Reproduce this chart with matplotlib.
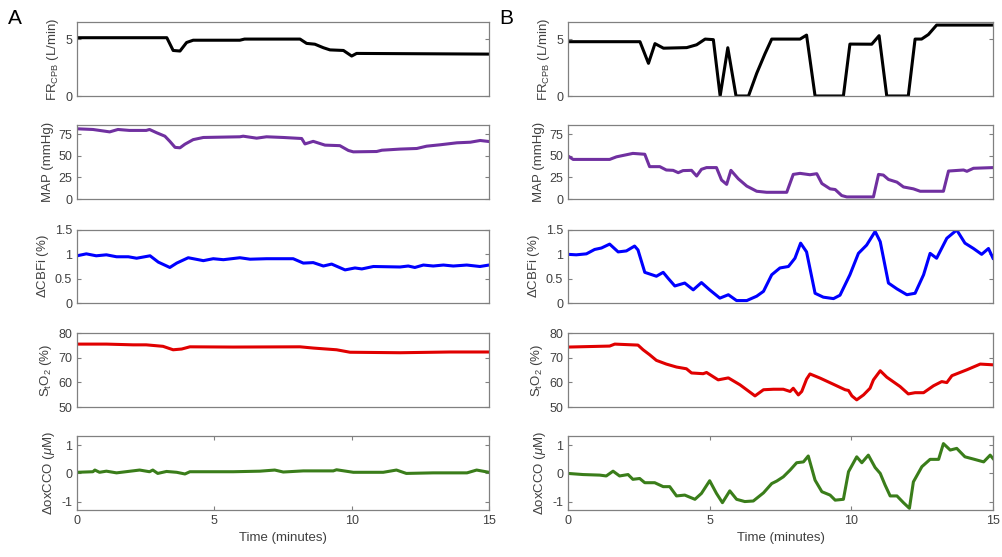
import matplotlib
matplotlib.use("Agg")
import matplotlib.pyplot as plt

plt.rcParams["font.family"] = ["Liberation Sans", "DejaVu Sans"]
plt.rcParams["mathtext.fontset"] = "custom"
plt.rcParams["mathtext.rm"] = "Liberation Sans"
plt.rcParams["mathtext.it"] = "Liberation Sans:italic"

# ---- panel A ----
a_fr_t = [0, 3.27, 3.5, 3.75, 3.99, 4.23, 5.93, 6.1, 8.12, 8.36, 8.66, 8.97, 9.21, 9.7, 10.0, 10.18, 15]
a_fr_v = [5.12, 5.12, 4.0, 3.95, 4.7, 4.9, 4.9, 5.0, 5.0, 4.62, 4.55, 4.24, 4.05, 4.0, 3.51, 3.74, 3.68]

a_map_t = [0, 0.58, 1.19, 1.49, 1.91, 2.52, 2.64, 2.9, 3.2, 3.38, 3.57, 3.75, 3.93, 4.23, 4.6, 5.93, 6.05,
           6.54, 6.9, 7.51, 8.18, 8.3, 8.6, 9.03, 9.57, 9.88, 10.06, 10.91, 11.1, 11.76, 12.37, 12.73, 13.22,
           13.83, 14.32, 14.68, 15]
a_map_v = [81.6, 80.8, 78, 80.8, 79.7, 79.7, 80.8, 77, 73, 67, 60, 59.5, 63.7, 69, 71.5, 72.3, 73,
           70.7, 72.3, 71.5, 70.3, 64, 67, 62.6, 62, 56.4, 54.8, 55.2, 56.7, 58, 58.7, 61.4, 63,
           65.3, 66, 68, 66.8]

a_cbf_t = [0, 0.34, 0.7, 1.07, 1.44, 1.87, 2.17, 2.66, 2.96, 3.38, 3.63, 4.05, 4.6, 4.96, 5.33, 5.93, 6.3,
           6.9, 7.87, 8.24, 8.6, 8.97, 9.27, 9.76, 10.12, 10.37, 10.79, 11.76, 12.06, 12.3, 12.61, 12.97,
           13.34, 13.7, 14.19, 14.67, 15]
a_cbf_v = [0.97, 1.01, 0.97, 0.99, 0.95, 0.95, 0.92, 0.97, 0.84, 0.73, 0.82, 0.93, 0.87, 0.91, 0.89, 0.93, 0.90,
           0.91, 0.91, 0.82, 0.83, 0.76, 0.80, 0.68, 0.72, 0.70, 0.75, 0.74, 0.76, 0.73, 0.78, 0.76,
           0.78, 0.76, 0.78, 0.75, 0.78]

a_sto2_t = [0, 1.07, 2.04, 2.52, 3.13, 3.5, 3.81, 4.11, 5.69, 8.12, 8.6, 9.45, 9.94, 11.76, 13.58, 15]
a_sto2_v = [75.5, 75.5, 75.2, 75.2, 74.6, 73.2, 73.5, 74.4, 74.3, 74.4, 73.9, 73.2, 72.2, 72.0, 72.3, 72.3]

a_cco_t = [0, 0.58, 0.65, 0.82, 1.07, 1.44, 2.28, 2.64, 2.76, 2.94, 3.26, 3.63, 3.93, 4.11, 5.69, 6.66, 7.2,
           7.51, 8.24, 9.33, 9.45, 10.06, 11.15, 11.63, 11.99, 12.97, 14.2, 14.55, 15]
a_cco_v = [0.04, 0.06, 0.12, 0.04, 0.08, 0.02, 0.12, 0.06, 0.12, 0.0, 0.07, 0.04, -0.02, 0.06, 0.06, 0.08, 0.12,
           0.05, 0.09, 0.09, 0.13, 0.04, 0.04, 0.12, 0.0, 0.02, 0.02, 0.12, 0.04]

# ---- panel B ----
b_fr_t = [0, 2.54, 2.84, 3.07, 3.37, 4.19, 4.54, 4.84, 5.13, 5.37, 5.64, 5.93, 6.37, 6.66, 6.95, 7.19, 8.19,
          8.42, 8.72, 9.72, 9.95, 10.72, 10.98, 11.25, 12.01, 12.25, 12.48, 12.72, 13.01, 15]
b_fr_v = [4.77, 4.77, 2.87, 4.6, 4.2, 4.25, 4.5, 5.0, 4.95, 0, 4.24, 0, 0, 1.99, 3.7, 5.0, 5.0,
          5.35, 0, 0, 4.56, 4.55, 5.3, 0, 0, 5.0, 5.0, 5.4, 6.23, 6.23]

b_map_t = [0, 0.18, 1.47, 1.71, 2.29, 2.71, 2.88, 3.24, 3.47, 3.71, 3.89, 4.06, 4.36, 4.54, 4.71, 4.89, 5.24,
           5.42, 5.6, 5.75, 6.01, 6.31, 6.66, 7.01, 7.72, 7.95, 8.19, 8.54, 8.78, 8.96, 9.25, 9.43, 9.66,
           9.84, 10.78, 10.96, 11.13, 11.31, 11.61, 11.84, 12.19, 12.43, 13.25, 13.43, 13.96, 14.08, 14.31, 15]
b_map_v = [50, 46, 46, 49, 53, 52, 37.6, 37.6, 33.7, 33.3, 30.6, 33, 33.3, 26.7, 34.5, 36.5, 36.5,
           22, 17, 33.3, 23.5, 15, 9, 7.8, 7.8, 28.6, 29.8, 28.2, 29.4, 18, 11.8, 11, 4,
           2.4, 2.4, 28.6, 27.8, 22.7, 19.6, 14, 11.8, 9, 9, 32.5, 33.7, 32.2, 35.7, 36.5]

b_cbf_t = [0, 0.29, 0.65, 0.94, 1.18, 1.47, 1.77, 2.06, 2.35, 2.47, 2.71, 3.12, 3.36, 3.53, 3.77, 4.12, 4.42,
           4.71, 5.0, 5.36, 5.66, 5.95, 6.31, 6.66, 6.9, 7.19, 7.48, 7.78, 8.01, 8.21, 8.42, 8.72, 9.01,
           9.37, 9.6, 9.95, 10.25, 10.54, 10.84, 11.02, 11.31, 11.61, 11.96, 12.25, 12.55, 12.78, 13.01,
           13.37, 13.72, 14.01, 14.31, 14.6, 14.84, 15]
b_cbf_v = [1.0, 0.99, 1.01, 1.1, 1.13, 1.21, 1.05, 1.07, 1.17, 1.09, 0.63, 0.55, 0.63, 0.51, 0.35, 0.41, 0.27,
           0.42, 0.27, 0.10, 0.17, 0.05, 0.05, 0.14, 0.24, 0.58, 0.72, 0.75, 0.92, 1.23, 1.05, 0.20, 0.12,
           0.09, 0.16, 0.58, 1.02, 1.19, 1.47, 1.26, 0.41, 0.29, 0.17, 0.20, 0.58, 1.02, 0.92,
           1.33, 1.50, 1.23, 1.12, 1.0, 1.12, 0.92]

b_sto2_t = [0, 1.47, 1.65, 2.47, 2.65, 2.88, 3.12, 3.47, 3.83, 4.18, 4.36, 4.77, 4.89, 5.3, 5.66, 6.07, 6.6,
            6.9, 7.25, 7.6, 7.84, 7.95, 8.13, 8.25, 8.42, 8.54, 8.9, 9.37, 9.78, 9.9, 10.02, 10.19, 10.43,
            10.66, 10.78, 11.02, 11.25, 11.72, 12.01, 12.25, 12.55, 12.9, 13.19, 13.37, 13.55, 14.08, 14.55, 15]
b_sto2_v = [74.3, 74.7, 75.5, 75.1, 73.2, 71.2, 68.9, 67.4, 66.2, 65.5, 63.8, 63.5, 64, 61, 61.8, 59, 54.5,
            57, 57.2, 57.2, 56.3, 57.6, 54.9, 56.3, 61.3, 63.4, 61.7, 59.2, 57, 56.7, 54.5, 52.9, 54.9,
            57.6, 61, 64.7, 62.1, 58.3, 55.3, 55.8, 55.8, 58.6, 60.3, 59.9, 62.7, 65.1, 67.4, 67.1]

b_cco_t = [0, 0.53, 1.12, 1.35, 1.59, 1.82, 2.12, 2.29, 2.53, 2.71, 3.06, 3.36, 3.59, 3.83, 4.12, 4.48, 4.71,
           5.0, 5.24, 5.45, 5.71, 5.95, 6.24, 6.54, 6.9, 7.19, 7.37, 7.6, 7.84, 8.07, 8.31, 8.48, 8.72,
           8.96, 9.25, 9.43, 9.72, 9.9, 10.19, 10.37, 10.6, 10.84, 11.02, 11.19, 11.37, 11.61, 11.84, 12.05,
           12.19, 12.49, 12.78, 13.08, 13.25, 13.49, 13.72, 14.01, 14.31, 14.67, 14.9, 15]
b_cco_v = [0, -0.04, -0.06, -0.09, 0.08, -0.09, -0.04, -0.21, -0.18, -0.33, -0.33, -0.47, -0.47, -0.8, -0.77, -0.92, -0.71,
           -0.26, -0.71, -1.04, -0.62, -0.92, -1.0, -0.98, -0.69, -0.36, -0.27, -0.12, 0.12, 0.38, 0.41, 0.62, -0.24,
           -0.65, -0.77, -0.95, -0.92, 0.06, 0.59, 0.38, 0.65, 0.21, 0.0, -0.41, -0.8, -0.8, -1.04, -1.24,
           -0.30, 0.24, 0.5, 0.5, 1.06, 0.83, 0.89, 0.59, 0.51, 0.41, 0.65, 0.53]

ylabels = [r"FR$_{\mathrm{CPB}}$ (L/min)", "MAP (mmHg)", r"$\Delta$CBFi (%)",
           r"S$_{\mathrm{t}}$O$_{2}$ (%)", r"$\Delta$oxCCO ($\mu$M)"]
ylims = [(0, 6.5), (0, 86), (0, 1.5), (50, 80), (-1.3, 1.33)]
yticks = [[0, 5], [0, 25, 50, 75], [0, 0.5, 1, 1.5], [50, 60, 70, 80], [-1, 0, 1]]
yticklabels = [["0", "5"], ["0", "25", "50", "75"], ["0", "0.5", "1", "1.5"],
               ["50", "60", "70", "80"], ["-1", "0", "1"]]
colors = ["black", "#7030A0", "#0000FF", "#E00000", "#3A7D1A"]
xticks = [0, 5, 10, 15]

panels = {
    "A": [(a_fr_t, a_fr_v), (a_map_t, a_map_v), (a_cbf_t, a_cbf_v), (a_sto2_t, a_sto2_v), (a_cco_t, a_cco_v)],
    "B": [(b_fr_t, b_fr_v), (b_map_t, b_map_v), (b_cbf_t, b_cbf_v), (b_sto2_t, b_sto2_v), (b_cco_t, b_cco_v)],
}

W, H = 1003, 557
fig = plt.figure(figsize=(W / 100, H / 100), dpi=100)

col_x = {"A": (77, 489), "B": (568, 993)}
row_y = [(22, 96), (125, 199), (230, 303), (333, 407), (436, 510)]
edge = "#808080"
txt = "#404040"

for name, series in panels.items():
    x0, x1 = col_x[name]
    for i, (t, v) in enumerate(series):
        y0, y1 = row_y[i]
        ax = fig.add_axes([x0 / W, 1 - y1 / H, (x1 - x0) / W, (y1 - y0) / H])
        ax.plot(t, v, color=colors[i], lw=2.2)
        ax.set_xlim(0, 15)
        ax.set_ylim(*ylims[i])
        ax.set_yticks(yticks[i])
        ax.set_yticklabels(yticklabels[i])
        ax.set_ylabel(ylabels[i], fontsize=9.5, color=txt, labelpad=3)
        for s in ax.spines.values():
            s.set_color(edge)
            s.set_linewidth(0.9)
        ax.tick_params(direction="in", length=3, width=0.8, color=edge, labelcolor=txt,
                       labelsize=9, right=True, top=(i == 4))
        if i == 4:
            ax.set_xticks(xticks)
            ax.set_xlabel("Time (minutes)", fontsize=9.5, color=txt)
        else:
            ax.set_xticks([])
    fig.text((x0 - 62) / W, 1 - 18 / H, name, fontsize=15, ha="center", va="center")

fig.savefig("out.png", dpi=100)
